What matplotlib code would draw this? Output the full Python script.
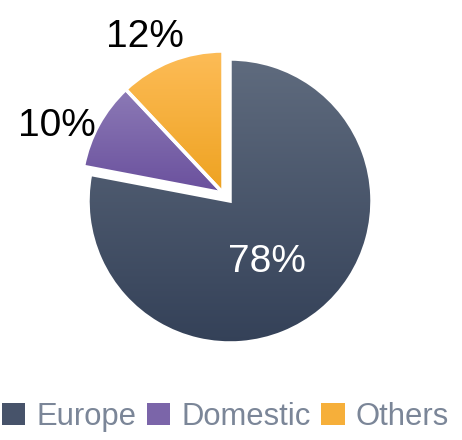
import numpy as np
import matplotlib
matplotlib.use("Agg")
import matplotlib.pyplot as plt
from matplotlib.patches import Patch
from matplotlib.colors import LinearSegmentedColormap

plt.rcParams['font.family'] = ['Liberation Sans', 'DejaVu Sans']

categories = ["Europe", "Domestic", "Others"]
values = [78, 10, 12]
labels = ["78%", "10%", "12%"]
top_colors = ["#5f6b7e", "#8c7ab6", "#fdbc57"]
bot_colors = ["#344158", "#6a509d", "#eea220"]
mid_colors = ["#47536a", "#7b65a9", "#f6af3a"]

W, H = 462, 440
fig = plt.figure(figsize=(W / 100, H / 100), dpi=100)
ax = fig.add_axes([0, 0, 1, 1])

center = (230, 239)
radius = 142
wedges, _ = ax.pie(values, startangle=90, counterclock=False, center=center,
                   radius=radius, frame=True,
                   wedgeprops=dict(edgecolor='white', linewidth=2.5))

# small slices pulled out together
shift = np.array([-7, 8])
for w in wedges[1:]:
    w.set_center(tuple(np.array(center) + shift))

for w, tc, bc in zip(wedges, top_colors, bot_colors):
    w.set_facecolor('none')
    path = w.get_path()
    verts = w.get_patch_transform().transform(path.vertices)
    x0, y0 = verts.min(axis=0)
    x1, y1 = verts.max(axis=0)
    cmap = LinearSegmentedColormap.from_list('g', [bc, tc])
    grad = np.linspace(0, 1, 256).reshape(-1, 1)
    im = ax.imshow(grad, cmap=cmap, extent=[x0, x1, y0, y1], origin='lower',
                   aspect='auto', zorder=w.get_zorder() - 0.1)
    im.set_clip_path(w)

ax.set_xlim(0, W)
ax.set_ylim(0, H)
ax.axis('off')

ax.text(267, 178, labels[0], color='white', fontsize=28, ha='center', va='center')
ax.text(57, 314, labels[1], color='black', fontsize=28, ha='center', va='center')
ax.text(145, 403, labels[2], color='black', fontsize=28, ha='center', va='center')

handles = [Patch(facecolor=c, edgecolor='none') for c in mid_colors]
ax.legend(handles, categories, loc='lower center', bbox_to_anchor=(0.488, -0.045),
          ncol=3, frameon=False, fontsize=22.3, handlelength=0.75, handleheight=0.75,
          handletextpad=0.35, columnspacing=0.35, labelcolor='#7b8698')

fig.savefig('out.png', dpi=100)
